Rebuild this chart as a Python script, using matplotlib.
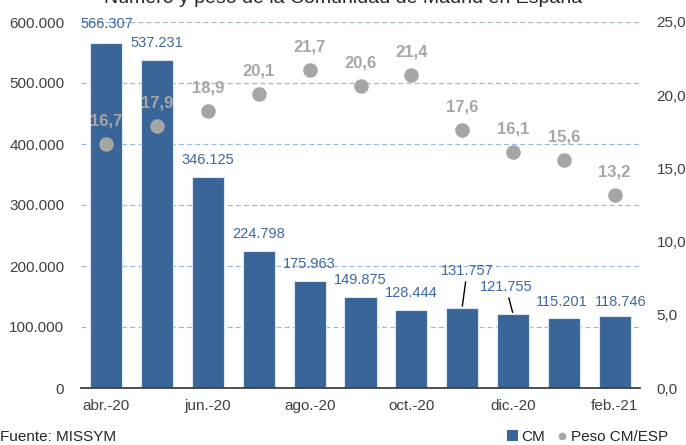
import matplotlib
matplotlib.use("Agg")
import matplotlib.pyplot as plt
from matplotlib.ticker import FuncFormatter
from matplotlib.lines import Line2D
from matplotlib.patches import Patch

plt.rcParams['font.family'] = ['Liberation Sans', 'DejaVu Sans']

months = ["abr.-20", "may.-20", "jun.-20", "jul.-20", "ago.-20", "sep.-20",
          "oct.-20", "nov.-20", "dic.-20", "ene.-21", "feb.-21"]
cm_values = [566307, 537231, 346125, 224798, 175963, 149875,
             128444, 131757, 121755, 115201, 118746]
peso_values = [16.7, 17.9, 18.9, 20.1, 21.7, 20.6, 21.4, 17.6, 16.1, 15.6, 13.2]

title = "Número y peso de la Comunidad de Madrid en España"
source = "Fuente: MISSYM"

BAR_COLOR = "#3A6598"
LABEL_BLUE = "#3E68A0"
DOT_COLOR = "#A6A6A6"
TEXT_COLOR = "#404040"
GRID_COLOR = "#9DB9DE"

PX = 0.72  # points per pixel at 100 dpi

fig = plt.figure(figsize=(6.86, 4.45), dpi=100)
ax = fig.add_axes([81/686, 1-388/445, (640-81)/686, (388-22)/445])
x = list(range(len(months)))

ax.bar(x, cm_values, width=0.63, color=BAR_COLOR, edgecolor="#DCE6F2",
       linewidth=0.8, zorder=2)
ax.set_xlim(-0.5, len(months)-0.5)
ax.set_ylim(0, 600000)
ax.set_yticks(range(0, 600001, 100000))
ax.yaxis.set_major_formatter(FuncFormatter(
    lambda v, p: "0" if v == 0 else f"{int(v):,}".replace(",", ".")))
ax.grid(axis="y", linestyle=(0, (4, 2.5)), color=GRID_COLOR, linewidth=0.9, zorder=0)
ax.set_axisbelow(True)
for s in ["left", "right", "top"]:
    ax.spines[s].set_visible(False)
ax.spines["bottom"].set_color("#404040")
ax.spines["bottom"].set_linewidth(1.3)
ax.spines["bottom"].set_zorder(3)
ax.tick_params(axis="both", length=0, labelsize=11, labelcolor=TEXT_COLOR)
ax.tick_params(axis="y", pad=12)
ax.tick_params(axis="x", pad=8)
ax.set_xticks(x[::2])
ax.set_xticklabels(months[::2])

# bar labels (offsets in px: dx, dy to label centre above bar top)
offsets = {0: (0, 19), 7: (5, 37), 8: (-7, 27), 9: (-2, 16), 10: (6, 14)}
leaders = {7, 8}
for i, v in enumerate(cm_values):
    dx, dy = offsets.get(i, (0, 17))
    lbl = f"{v:,}".replace(",", ".")
    kw = {}
    if i in leaders:
        kw["arrowprops"] = dict(arrowstyle="-", color="black", lw=1.0,
                                shrinkA=1, shrinkB=1)
    ax.annotate(lbl, xy=(i, v), xytext=(dx*PX, dy*PX), textcoords="offset points",
                ha="center", va="center", fontsize=10.5, color=LABEL_BLUE, zorder=5, **kw)

ax2 = ax.twinx()
ax2.set_ylim(0, 25)
ax2.set_yticks([0, 5, 10, 15, 20, 25])
ax2.yaxis.set_major_formatter(FuncFormatter(lambda v, p: f"{v:.1f}".replace(".", ",")))
for s in ["left", "right", "top", "bottom"]:
    ax2.spines[s].set_visible(False)
ax2.tick_params(axis="y", length=0, labelsize=11, labelcolor=TEXT_COLOR, pad=12)
ax2.scatter(x, peso_values, s=110, color=DOT_COLOR, zorder=4, linewidths=0)
for i, v in enumerate(peso_values):
    ax2.annotate(f"{v:.1f}".replace(".", ","), xy=(i, v), xytext=(0, 23*PX),
                 textcoords="offset points", ha="center", va="center",
                 fontsize=12, fontweight="bold", color=DOT_COLOR)

fig.text(0.5, 1-3/445, title, ha="center", va="baseline", fontsize=14, color="#262626")
fig.text(0.0, 1-437/445, source, ha="left", va="center", fontsize=11, color="#262626")

handles = [Patch(facecolor=BAR_COLOR, edgecolor="none"),
           Line2D([], [], marker="o", linestyle="none", color=DOT_COLOR, markersize=4.5)]
fig.legend(handles, ["CM", "Peso CM/ESP"], loc="center right",
           bbox_to_anchor=(1-18/686, 1-437/445), ncol=2, frameon=False, fontsize=11,
           handlelength=0.7, handleheight=0.7, handletextpad=0.2, columnspacing=0.8,
           borderpad=0, borderaxespad=0, labelcolor="#262626")

fig.savefig("out.png", dpi=100)
